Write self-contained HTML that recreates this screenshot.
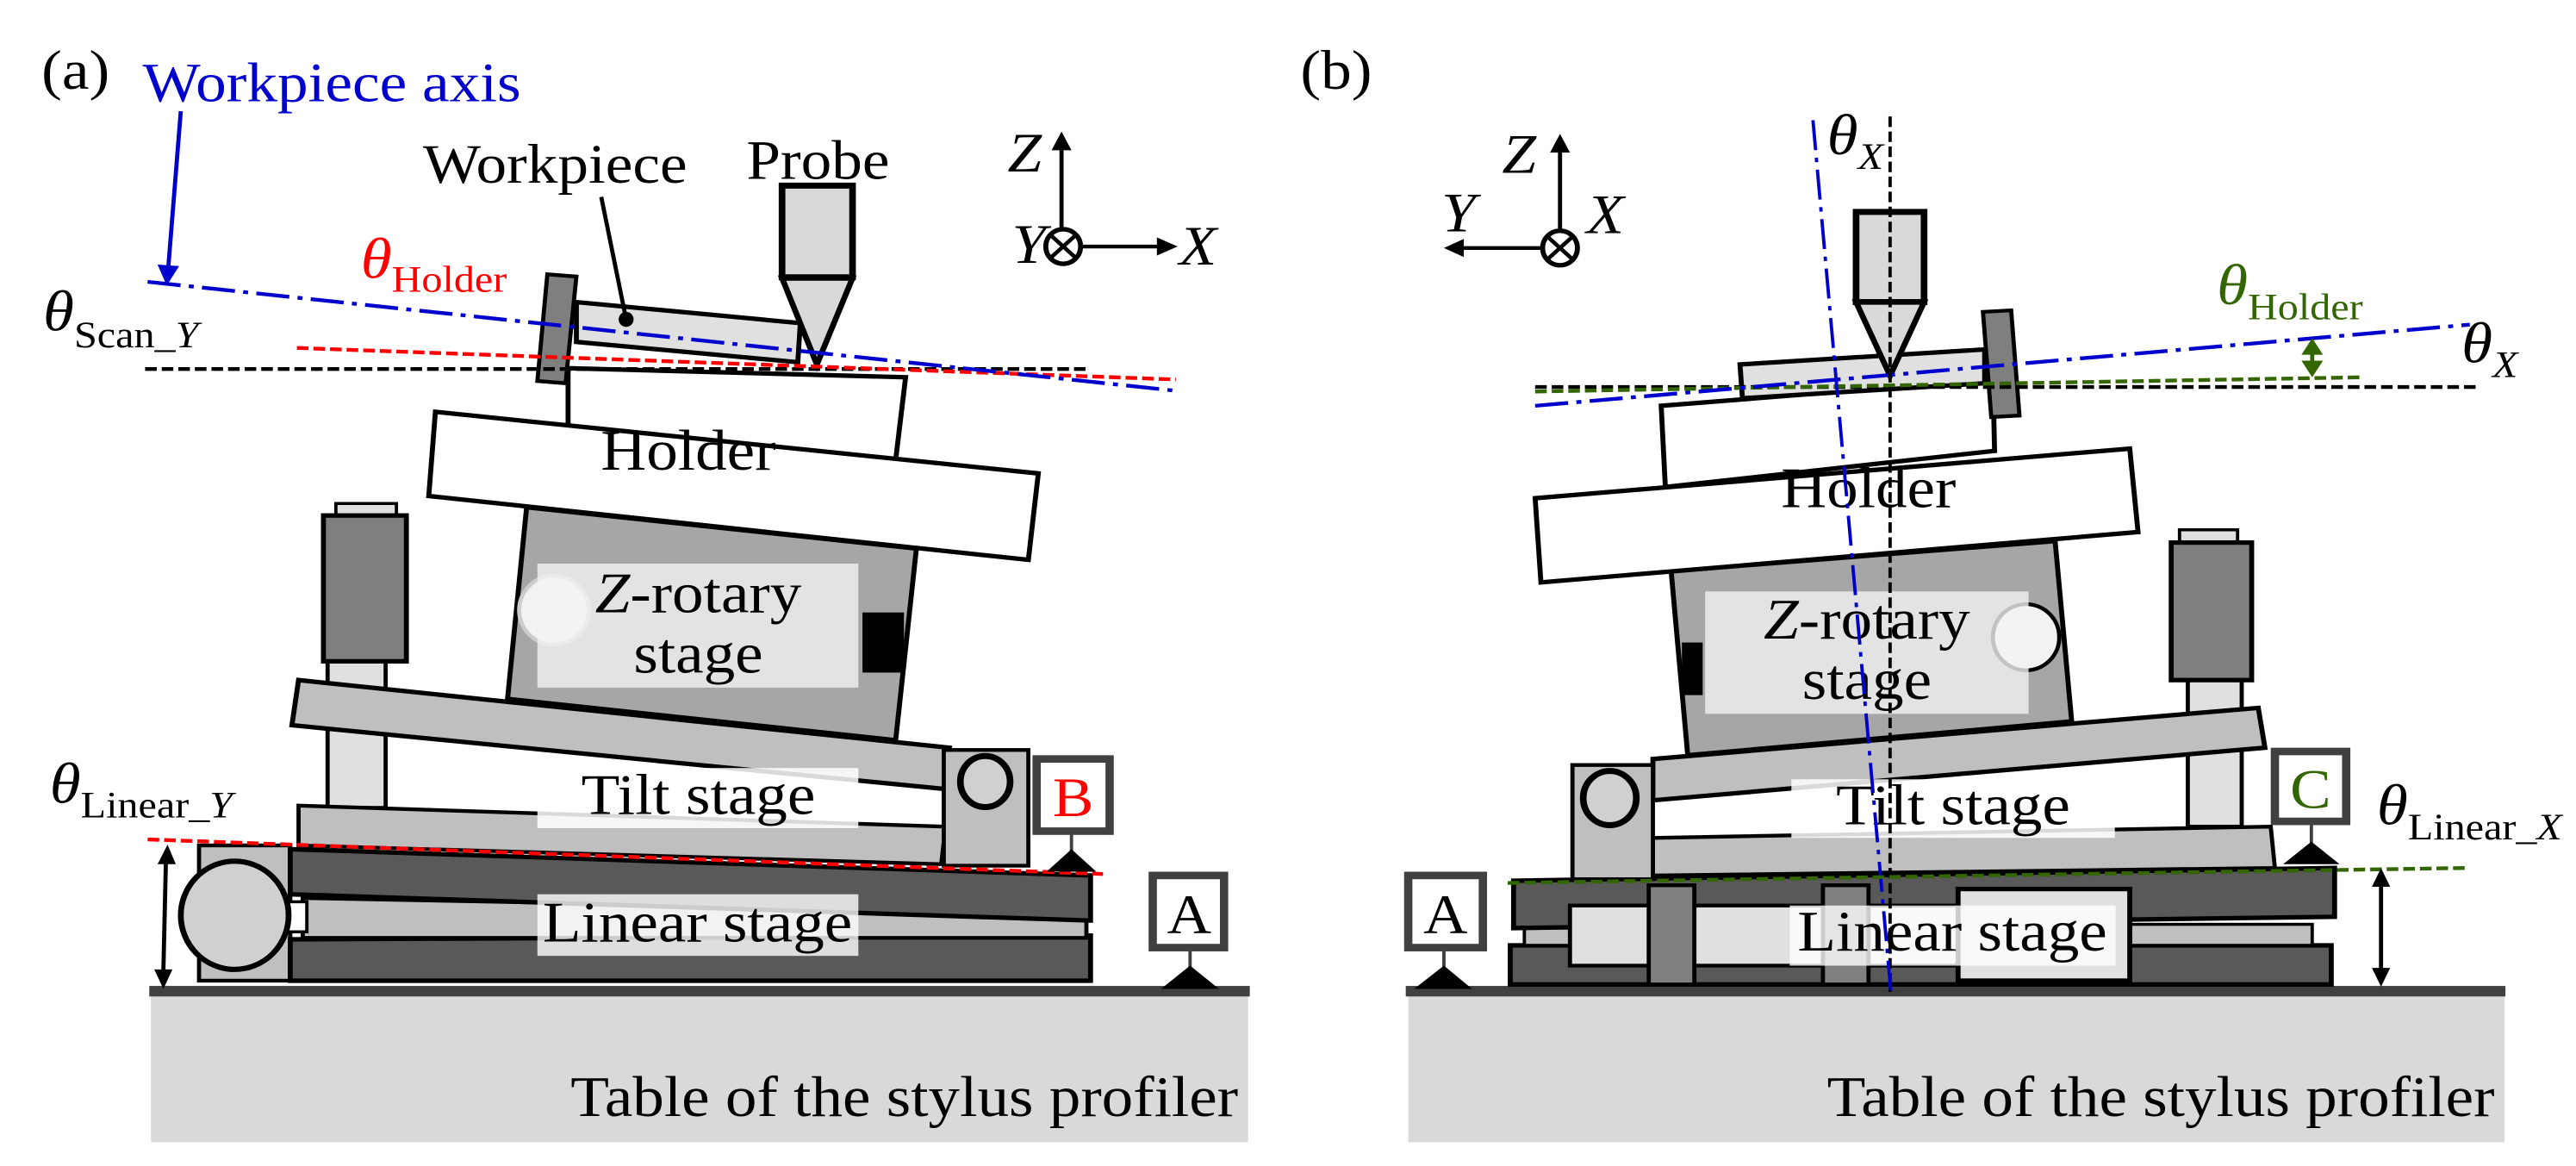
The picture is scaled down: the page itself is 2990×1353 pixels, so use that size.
<!DOCTYPE html>
<html><head><meta charset="utf-8"><style>
html,body{margin:0;padding:0;background:#fff;overflow:hidden;}
svg{display:block;}
svg text{font-family:"Liberation Serif","Times New Roman",serif;}
</style></head><body>
<svg width="2990" height="1353" viewBox="0 0 2990 1353" xmlns="http://www.w3.org/2000/svg" font-family="'Liberation Serif', serif">
<!-- Panel (a) -->
<g transform="scale(0.9626,0.872)">
  <rect x="182" y="1325" width="1323" height="195" fill="#d9d9d9"/>
  <rect x="180" y="1312" width="1327" height="14" fill="#404040"/>
  <text x="688" y="1485" font-size="76">Table of the stylus profiler</text>
  <rect x="240" y="1125" width="110" height="180" fill="#bfbfbf" stroke="#000" stroke-width="5"/>
  <polygon points="350,1250 1315,1245 1315,1305 350,1305" fill="#595959" stroke="#000" stroke-width="6"/>
  <polygon points="365,1195 1310,1215 1310,1248 365,1248" fill="#bfbfbf" stroke="#000" stroke-width="5"/>
  <polygon points="350,1130 1315,1165 1315,1225 350,1190" fill="#595959" stroke="#000" stroke-width="6"/>
  <rect x="345" y="1200" width="25" height="40" fill="#fff" stroke="#000" stroke-width="4"/>
  <ellipse cx="283" cy="1218" rx="65" ry="72" fill="#d0d0d0" stroke="#000" stroke-width="7"/>
  <rect x="648" y="1190" width="387" height="82" fill="#fff" fill-opacity="0.8"/>
  <text x="841" y="1253" font-size="76" text-anchor="middle">Linear stage</text>
  <rect x="395" y="875" width="70" height="200" fill="#e0e0e0" stroke="#000" stroke-width="5"/>
  <rect x="405" y="670" width="73" height="18" fill="#e0e0e0" stroke="#000" stroke-width="4"/>
  <rect x="390" y="686" width="100" height="194" fill="#7f7f7f" stroke="#000" stroke-width="6"/>
  <polygon points="360,1072 1140,1100 1135,1150 360,1125" fill="#bfbfbf" stroke="#000" stroke-width="5"/>
  <polygon points="635,675 1105,730 1080,985 612,930" fill="#a6a6a6" stroke="#000" stroke-width="6"/>
  <rect x="1040" y="815" width="50" height="80" fill="#000"/>
  <polygon points="360,905 1145,995 1140,1050 352,965" fill="#bfbfbf" stroke="#000" stroke-width="6"/>
  <rect x="1138" y="998" width="102" height="154" fill="#bfbfbf" stroke="#000" stroke-width="5"/>
  <ellipse cx="1188" cy="1040" rx="30" ry="34" fill="#d0d0d0" stroke="#000" stroke-width="8"/>
  <rect x="648" y="1022" width="387" height="80" fill="#fff" fill-opacity="0.85"/>
  <text x="842" y="1083" font-size="76" text-anchor="middle">Tilt stage</text>
  <ellipse cx="668" cy="812" rx="42" ry="46" fill="#f2f2f2" stroke="#ccc" stroke-width="5"/>
  <rect x="648" y="750" width="387" height="165" fill="#f2f2f2" fill-opacity="0.8"/>
  <text x="842" y="815" font-size="76" text-anchor="middle"><tspan font-style="italic">Z</tspan>-rotary</text>
  <text x="842" y="895" font-size="76" text-anchor="middle">stage</text>
  <polygon points="685,490 1092,502 1080,612 685,570" fill="#fff" stroke="#000" stroke-width="6"/>
  <polygon points="525,548 1252,630 1240,745 517,660" fill="#fff" stroke="#000" stroke-width="6"/>
  <text x="830" y="625" font-size="76" text-anchor="middle">Holder</text>
  <polygon points="695,402 965,430 962,482 695,455" fill="#e0e0e0" stroke="#000" stroke-width="6"/>
  <polygon points="660,365 695,368 682,510 648,507" fill="#7f7f7f" stroke="#000" stroke-width="5"/>
  <line x1="725" y1="262" x2="755" y2="425" stroke="#000" stroke-width="5"/>
  <ellipse cx="755" cy="425" rx="9" ry="10" fill="#000"/>
  <rect x="943" y="247" width="85" height="122" fill="#d9d9d9" stroke="#000" stroke-width="8"/>
  <polygon points="943,370 1028,370 985,485" fill="#d9d9d9" stroke="#000" stroke-width="7"/>
  <line x1="175" y1="491" x2="1315" y2="491" stroke="#000" stroke-width="5" stroke-dasharray="14,6"/>
  <line x1="358" y1="463" x2="1418" y2="505" stroke="#f00" stroke-width="5" stroke-dasharray="14,6"/>
  <line x1="178" y1="375" x2="1418" y2="520" stroke="#0000cc" stroke-width="5" stroke-dasharray="40,10,6,10"/>
  <line x1="218" y1="148" x2="203" y2="355" stroke="#0000cc" stroke-width="5"/>
  <polygon points="190,352 216,354 201,380" fill="#0000cc"/>
  <line x1="178" y1="1117" x2="1330" y2="1163" stroke="#f00" stroke-width="5" stroke-dasharray="14,6"/>
  <line x1="200" y1="1148" x2="197" y2="1292" stroke="#000" stroke-width="5"/>
  <polygon points="190,1150 212,1150 202,1124" fill="#000"/>
  <polygon points="186,1290 208,1290 197,1316" fill="#000"/>
  <line x1="1292" y1="1108" x2="1292" y2="1135" stroke="#404040" stroke-width="4"/>
  <polygon points="1262,1160 1322,1160 1292,1130" fill="#000"/>
  <rect x="1250" y="1010" width="88" height="96" fill="#fff" stroke="#404040" stroke-width="10"/>
  <text x="1294" y="1086" font-size="74" fill="#f00" text-anchor="middle">B</text>
  <line x1="1435" y1="1263" x2="1435" y2="1290" stroke="#404040" stroke-width="4"/>
  <polygon points="1400,1316 1470,1316 1435,1285" fill="#000"/>
  <rect x="1390" y="1165" width="86" height="96" fill="#fff" stroke="#404040" stroke-width="10"/>
  <text x="1434" y="1242" font-size="74" text-anchor="middle">A</text>
  <line x1="1280" y1="310" x2="1280" y2="195" stroke="#000" stroke-width="5"/>
  <polygon points="1268,200 1292,200 1280,175" fill="#000"/>
  <line x1="1305" y1="328" x2="1400" y2="328" stroke="#000" stroke-width="5"/>
  <polygon points="1395,316 1395,340 1420,328" fill="#000"/>
  <ellipse cx="1282" cy="328" rx="21" ry="23" fill="#fff" stroke="#000" stroke-width="6"/>
  <line x1="1268" y1="314" x2="1296" y2="342" stroke="#000" stroke-width="5"/>
  <line x1="1296" y1="314" x2="1268" y2="342" stroke="#000" stroke-width="5"/>
  <text x="1215" y="228" font-size="74" font-style="italic">Z</text>
  <text x="1220" y="350" font-size="74" font-style="italic">Y</text>
  <text x="1422" y="352" font-size="74" font-style="italic">X</text>
  <text x="50" y="118" font-size="74">(a)</text>
  <text x="172" y="135" font-size="74" fill="#0000cc">Workpiece axis</text>
  <text x="510" y="243" font-size="74">Workpiece</text>
  <text x="900" y="238" font-size="74">Probe</text>
  <text x="435" y="370" font-size="76" fill="#f00"><tspan font-style="italic">θ</tspan><tspan font-size="50" dy="18">Holder</tspan></text>
  <text x="52" y="440" font-size="76"><tspan font-style="italic">θ</tspan><tspan font-size="50" dy="22">Scan_</tspan><tspan font-size="50" font-style="italic">Y</tspan></text>
  <text x="60" y="1068" font-size="76"><tspan font-style="italic">θ</tspan><tspan font-size="50" dy="20">Linear_</tspan><tspan font-size="50" font-style="italic">Y</tspan></text>
</g>
<!-- Panel (b) -->
<g transform="translate(1495,0) scale(0.9626,0.872)">
  <rect x="145" y="1325" width="1322" height="195" fill="#d9d9d9"/>
  <rect x="142" y="1312" width="1326" height="14" fill="#404040"/>
  <text x="650" y="1485" font-size="76">Table of the stylus profiler</text>
  <rect x="268" y="1258" width="990" height="52" fill="#595959" stroke="#000" stroke-width="6"/>
  <rect x="285" y="1230" width="950" height="28" fill="#bfbfbf" stroke="#000" stroke-width="4"/>
  <polygon points="272,1172 1262,1155 1262,1220 272,1235" fill="#595959" stroke="#000" stroke-width="6"/>
  <rect x="340" y="1205" width="670" height="80" fill="#e0e0e0" stroke="#000" stroke-width="5"/>
  <rect x="435" y="1178" width="55" height="132" fill="#7f7f7f" stroke="#000" stroke-width="5"/>
  <rect x="645" y="1178" width="55" height="132" fill="#7f7f7f" stroke="#000" stroke-width="5"/>
  <rect x="808" y="1183" width="207" height="122" fill="#e0e0e0" stroke="#000" stroke-width="6"/>
  <rect x="605" y="1205" width="393" height="80" fill="#fff" fill-opacity="0.8"/>
  <text x="801" y="1265" font-size="76" text-anchor="middle">Linear stage</text>
  <rect x="1085" y="900" width="65" height="200" fill="#e0e0e0" stroke="#000" stroke-width="5"/>
  <rect x="1075" y="705" width="70" height="18" fill="#e0e0e0" stroke="#000" stroke-width="4"/>
  <rect x="1065" y="722" width="97" height="183" fill="#7f7f7f" stroke="#000" stroke-width="6"/>
  <polygon points="440,1115 1185,1100 1190,1155 440,1165" fill="#bfbfbf" stroke="#000" stroke-width="5"/>
  <polygon points="462,760 925,720 945,960 482,1005" fill="#a6a6a6" stroke="#000" stroke-width="6"/>
  <rect x="475" y="855" width="25" height="70" fill="#000"/>
  <polygon points="440,1010 1170,942 1178,995 440,1065" fill="#bfbfbf" stroke="#000" stroke-width="6"/>
  <rect x="343" y="1018" width="97" height="152" fill="#bfbfbf" stroke="#000" stroke-width="5"/>
  <ellipse cx="388" cy="1062" rx="32" ry="36" fill="#d0d0d0" stroke="#000" stroke-width="8"/>
  <rect x="607" y="1037" width="390" height="78" fill="#fff" fill-opacity="0.85"/>
  <text x="802" y="1097" font-size="76" text-anchor="middle">Tilt stage</text>
  <ellipse cx="890" cy="848" rx="40" ry="44" fill="#f2f2f2" stroke="#000" stroke-width="5"/>
  <rect x="503" y="787" width="390" height="163" fill="#f2f2f2" fill-opacity="0.8"/>
  <text x="698" y="850" font-size="76" text-anchor="middle"><tspan font-style="italic">Z</tspan>-rotary</text>
  <text x="698" y="930" font-size="76" text-anchor="middle">stage</text>
  <polygon points="450,540 850,505 852,600 455,648" fill="#fff" stroke="#000" stroke-width="6"/>
  <polygon points="298,663 1015,597 1025,708 305,775" fill="#fff" stroke="#000" stroke-width="6"/>
  <text x="700" y="675" font-size="76" text-anchor="middle">Holder</text>
  <polygon points="545,485 840,465 840,510 548,530" fill="#e0e0e0" stroke="#000" stroke-width="6"/>
  <polygon points="838,415 872,413 882,553 848,555" fill="#7f7f7f" stroke="#000" stroke-width="5"/>
  <rect x="685" y="282" width="82" height="120" fill="#d9d9d9" stroke="#000" stroke-width="8"/>
  <polygon points="685,402 767,402 726,500" fill="#d9d9d9" stroke="#000" stroke-width="7"/>
  <line x1="298" y1="515" x2="1435" y2="515" stroke="#000" stroke-width="5" stroke-dasharray="14,6"/>
  <line x1="298" y1="521" x2="1297" y2="502" stroke="#336600" stroke-width="5" stroke-dasharray="14,6"/>
  <line x1="298" y1="540" x2="1425" y2="432" stroke="#0000cc" stroke-width="5" stroke-dasharray="40,10,6,10"/>
  <line x1="726" y1="155" x2="726" y2="1320" stroke="#000" stroke-width="4" stroke-dasharray="14,6"/>
  <line x1="633" y1="160" x2="727" y2="1320" stroke="#0000cc" stroke-width="4" stroke-dasharray="40,10,6,10"/>
  <line x1="1235" y1="470" x2="1235" y2="485" stroke="#336600" stroke-width="5"/>
  <polygon points="1222,472 1248,472 1235,450" fill="#336600"/>
  <polygon points="1222,480 1248,480 1235,502" fill="#336600"/>
  <line x1="265" y1="1175" x2="1420" y2="1155" stroke="#336600" stroke-width="5" stroke-dasharray="14,6"/>
  <line x1="1318" y1="1178" x2="1318" y2="1290" stroke="#000" stroke-width="5"/>
  <polygon points="1307,1180 1329,1180 1318,1155" fill="#000"/>
  <polygon points="1307,1288 1329,1288 1318,1313" fill="#000"/>
  <line x1="1234" y1="1095" x2="1234" y2="1125" stroke="#404040" stroke-width="4"/>
  <polygon points="1200,1150 1268,1150 1234,1120" fill="#000"/>
  <rect x="1190" y="1000" width="86" height="93" fill="#fff" stroke="#404040" stroke-width="10"/>
  <text x="1233" y="1075" font-size="74" fill="#336600" text-anchor="middle">C</text>
  <line x1="188" y1="1263" x2="188" y2="1290" stroke="#404040" stroke-width="4"/>
  <polygon points="152,1316 222,1316 188,1285" fill="#000"/>
  <rect x="145" y="1165" width="90" height="96" fill="#fff" stroke="#404040" stroke-width="10"/>
  <text x="190" y="1242" font-size="74" text-anchor="middle">A</text>
  <line x1="328" y1="310" x2="328" y2="200" stroke="#000" stroke-width="5"/>
  <polygon points="316,203 340,203 328,178" fill="#000"/>
  <line x1="305" y1="330" x2="210" y2="330" stroke="#000" stroke-width="5"/>
  <polygon points="212,318 212,342 188,330" fill="#000"/>
  <ellipse cx="328" cy="330" rx="21" ry="23" fill="#fff" stroke="#000" stroke-width="6"/>
  <line x1="314" y1="316" x2="342" y2="344" stroke="#000" stroke-width="5"/>
  <line x1="342" y1="316" x2="314" y2="344" stroke="#000" stroke-width="5"/>
  <text x="258" y="230" font-size="74" font-style="italic">Z</text>
  <text x="185" y="308" font-size="74" font-style="italic">Y</text>
  <text x="360" y="310" font-size="74" font-style="italic">X</text>
  <text x="15" y="118" font-size="74">(b)</text>
  <text x="650" y="205" font-size="76"><tspan font-style="italic">θ</tspan><tspan font-size="50" dy="20" font-style="italic">X</tspan></text>
  <text x="1415" y="482" font-size="76"><tspan font-style="italic">θ</tspan><tspan font-size="50" dy="20" font-style="italic">X</tspan></text>
  <text x="1120" y="405" font-size="76" fill="#336600"><tspan font-style="italic">θ</tspan><tspan font-size="50" dy="20">Holder</tspan></text>
  <text x="1313" y="1097" font-size="76"><tspan font-style="italic">θ</tspan><tspan font-size="50" dy="20">Linear_</tspan><tspan font-size="50" font-style="italic">X</tspan></text>
</g>
</svg>
</body></html>
